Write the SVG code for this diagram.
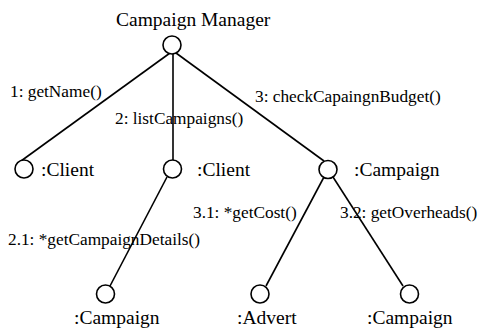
<svg xmlns="http://www.w3.org/2000/svg" width="480" height="329" viewBox="0 0 480 329">
<style>
.obj{fill:#fff;stroke:#000;stroke-width:1.6}
.ln{stroke:#000;stroke-width:1.6;fill:none}
.nl{font-family:"Liberation Serif","Times New Roman",serif;font-size:19.5px;fill:#000}
.ml{font-family:"Liberation Serif","Times New Roman",serif;font-size:17.3px;fill:#000}
</style>
<rect width="480" height="329" fill="#fff"/>
<g id="connectors">
<line class="ln" x1="170" y1="53" x2="21" y2="161"/>
<line class="ln" x1="173" y1="54" x2="173" y2="160"/>
<line class="ln" x1="176" y1="53" x2="324" y2="161"/>
<line class="ln" x1="167" y1="177" x2="110" y2="286"/>
<line class="ln" x1="324" y1="177" x2="266" y2="286"/>
<line class="ln" x1="333" y1="177" x2="403" y2="286"/>
<text class="ml" x="10" y="97">1: getName()</text>
<text class="ml" x="115" y="124">2: listCampaigns()</text>
<text class="ml" x="255" y="101.5">3: checkCapaingnBudget()</text>
<text class="ml" x="8" y="245">2.1: *getCampaignDetails()</text>
<text class="ml" x="193" y="217.5">3.1: *getCost()</text>
<text class="ml" x="340" y="217.5">3.2: getOverheads()</text>
</g>
<g id="campaignManager">
<circle class="obj" cx="172" cy="45" r="9"/>
<text class="nl" x="116" y="26">Campaign Manager</text>
</g>
<g id="client1">
<circle class="obj" cx="24" cy="169" r="9"/>
<text class="nl" x="41" y="176">:Client</text>
</g>
<g id="client2">
<circle class="obj" cx="172.5" cy="169" r="9"/>
<text class="nl" x="197" y="176">:Client</text>
</g>
<g id="campaign1">
<circle class="obj" cx="328" cy="169.5" r="9"/>
<text class="nl" x="354" y="176">:Campaign</text>
</g>
<g id="campaign2">
<circle class="obj" cx="105.5" cy="294" r="9"/>
<text class="nl" x="74" y="324">:Campaign</text>
</g>
<g id="advert">
<circle class="obj" cx="260" cy="294" r="9"/>
<text class="nl" x="237" y="324">:Advert</text>
</g>
<g id="campaign3">
<circle class="obj" cx="409.5" cy="294" r="9"/>
<text class="nl" x="367" y="324">:Campaign</text>
</g>
</svg>
